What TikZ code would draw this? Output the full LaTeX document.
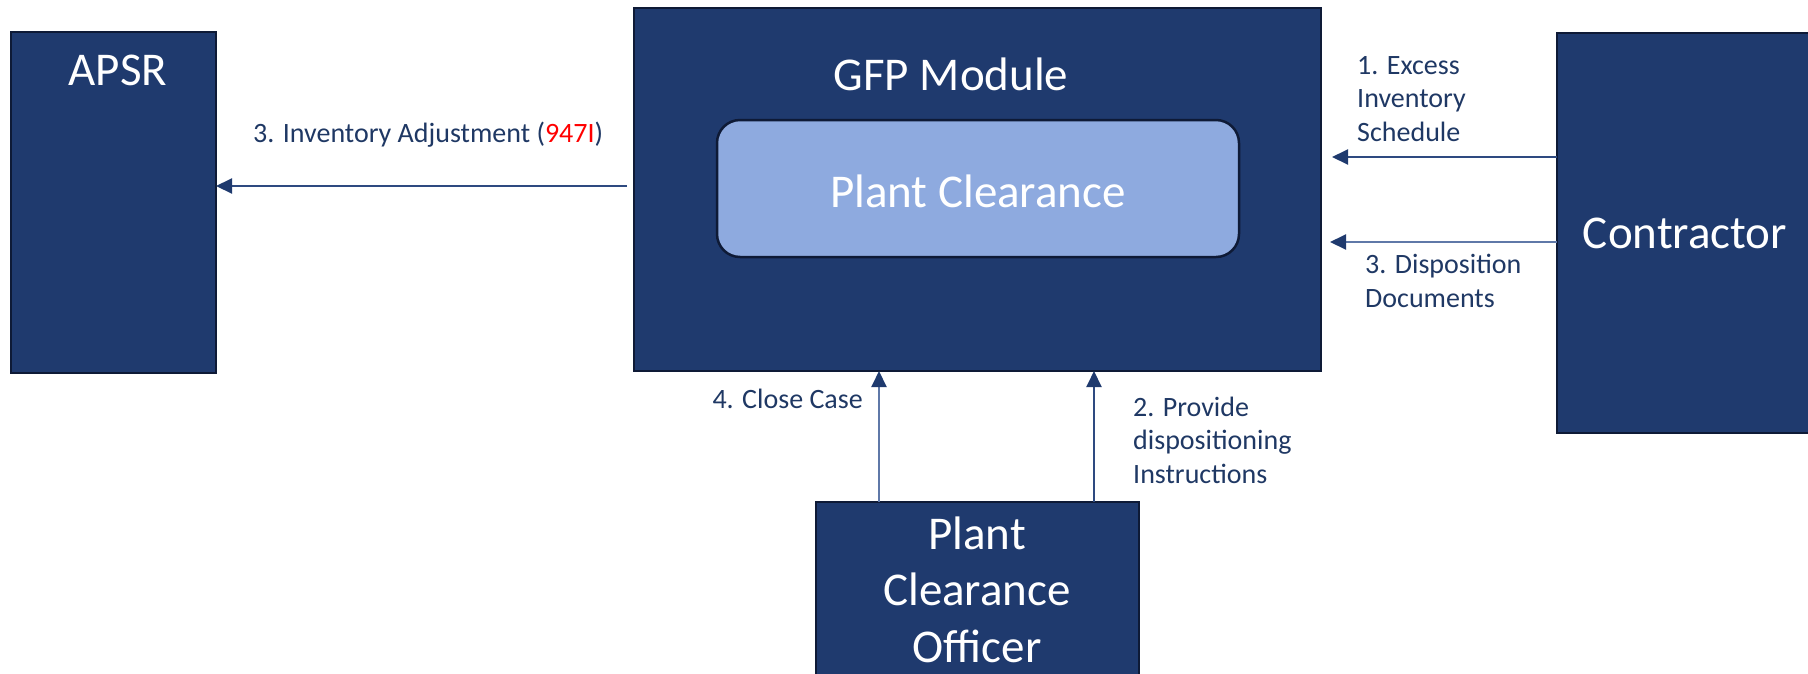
\documentclass[tikz,border=0pt]{standalone}
\usepackage{fontspec}
\setmainfont{Carlito}
\usetikzlibrary{arrows.meta}
\definecolor{boxblue}{HTML}{1F3A6E}
\definecolor{boxedge}{HTML}{0E1A36}
\definecolor{lightbox}{HTML}{8EAADF}
\definecolor{labelblue}{HTML}{1F3864}
\definecolor{arrdark}{HTML}{2E4A80}
\definecolor{arrlight}{HTML}{5F78A8}
\begin{document}
\begin{tikzpicture}[x=1pt,y=-1pt,
  bigbox/.style={draw=boxedge, line width=2.5pt, fill=boxblue, inner sep=0pt, outer sep=0pt, anchor=north west},
  innerbox/.style={draw=boxedge, line width=2.5pt, fill=lightbox, rounded corners=23pt, inner sep=0pt, outer sep=0pt, anchor=north west},
  bigtext/.style={font=\fontsize{47}{56.5}\selectfont, text=white, inner sep=0pt, align=center},
  smalltext/.style={font=\fontsize{28}{33.5}\selectfont, text=labelblue, inner sep=0pt, align=left},
  arr/.style={-{Triangle[length=16pt,width=15pt,color=boxblue]}, line width=2pt},
]
\useasboundingbox (0,0) rectangle (1808,673);
\clip (0,0) rectangle (1808,673);

% boxes
\node[bigbox, minimum width=205pt, minimum height=341pt] (apsr) at (11,32) {};
\node[bigbox, minimum width=687pt, minimum height=363pt] (gfp) at (634,8) {};
\node[innerbox, minimum width=522pt, minimum height=137pt] (pc) at (717,120) {};
\node[bigbox, minimum width=256pt, minimum height=400pt] (contr) at (1557,33) {};
\node[bigbox, minimum width=323pt, minimum height=218pt] (pco) at (816,502) {};

% box texts (multi-line nodes: base = last line's baseline)
\node[bigtext, anchor=base] (apsrt) at (118,85) {APSR};
\node[bigtext, anchor=base] (gfpt) at (951,90) {GFP Module};
\node[bigtext, anchor=base] (pct) at (978,207) {Plant Clearance};
\node[bigtext, anchor=base] (contrt) at (1685,248) {Contractor};
\node[bigtext, anchor=base] (pcot) at (977,662) {Plant\\Clearance\\Officer};

% labels
\node[smalltext, anchor=base west] (invl) at (253,142) {3. Inventory Adjustment (\textcolor{red}{947I})};
\node[smalltext, anchor=base west] (excl) at (1357,141) {1. Excess\\Inventory\\Schedule};
\node[smalltext, anchor=base west] (displ) at (1365,307) {3. Disposition\\Documents};
\node[smalltext, anchor=base east] (closel) at (863,408) {4. Close Case};
\node[smalltext, anchor=base west] (provl) at (1133,483) {2. Provide\\dispositioning\\Instructions};

% helper coordinates
\coordinate (yinv) at (0,186);
\coordinate (yexc) at (0,157);
\coordinate (ydisp) at (0,242);
\coordinate (xclose) at (879,0);
\coordinate (xprov) at (1094,0);

% connectors
\draw[arr, draw=arrdark] ([xshift=-7pt]gfp.west |- yinv) -- (apsr.east |- yinv);
\draw[arr, draw=arrdark] (contr.west |- yexc) -- ([xshift=11pt]gfp.east |- yexc);
\draw[arr, draw=arrlight] (contr.west |- ydisp) -- ([xshift=9pt]gfp.east |- ydisp);
\draw[arr, draw=arrlight] (pco.north -| xclose) -- (gfp.south -| xclose);
\draw[arr, draw=arrdark] (pco.north -| xprov) -- (gfp.south -| xprov);
\end{tikzpicture}
\end{document}
